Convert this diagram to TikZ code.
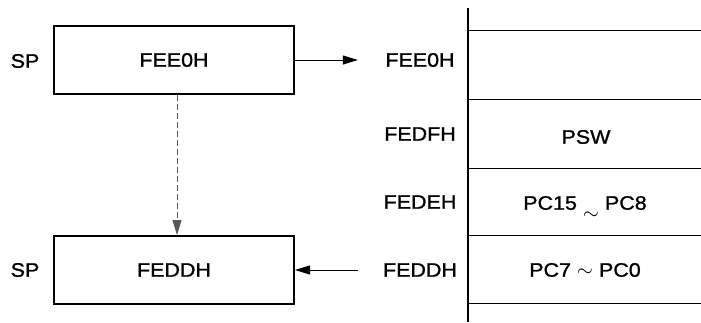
\documentclass[tikz,border=0pt]{standalone}
\usepackage{fontspec}
\setmainfont{Liberation Sans}[FakeStretch=1.1,FakeBold=1.2]
\usetikzlibrary{arrows.meta}
\begin{document}
\begin{tikzpicture}[x=1pt,y=-1pt,
  every node/.style={font=\fontsize{19.5}{21}\selectfont, inner sep=0pt},
  regbox/.style={draw, line width=2pt, minimum width=240pt, minimum height=68pt},
  addr/.style={minimum width=124pt},
  thin/.style={line width=1pt},
  tip/.style={-{Triangle[length=15pt,width=9pt]}},
  arr/.style={thin, tip}]
\useasboundingbox (0,0) rectangle (701,322);
% left side
\node[regbox] (sp1) at (174,60) {FEE0H};
\node[regbox] (sp2) at (174,270) {FEDDH};
\node (l1) at (25,61) {SP};
\node (l2) at (25,270) {SP};
% address labels
\node[addr] (a0) at (420,60) {FEE0H};
\node[addr] (a1) at (420,134) {FEDFH};
\node[addr] (a2) at (420,202) {FEDEH};
\node[addr] (a3) at (420,270) {FEDDH};
% memory table
\coordinate (vt) at (468,8);
\coordinate (vb) at (468,322);
\draw[line width=2pt] (vt) -- (vb);
\foreach \y/\n in {30/h0,99.5/h1,168/h2,235/h3,303/h4}{
  \coordinate (\n l) at (468,\y);
  \coordinate (\n r) at (701,\y);
  \draw[thin] (\n l) -- (\n r);
}
\node (c1) at (586,137) {PSW};
\node (c2) at (585,203) {PC15 \raisebox{-10pt}[0pt][0pt]{$\sim$} PC8};
\node (c3) at (585,270) {PC7 $\sim$ PC0};
% connectors
\draw[arr] (sp1.east) -- (a0.west);
\draw[arr] (a3.west) -- (sp2.east);
\draw[thin, gray!70!black, dash pattern=on 6pt off 3pt, tip, transform canvas={xshift=3pt}] (sp1.south) -- (sp2.north);
\end{tikzpicture}
\end{document}
